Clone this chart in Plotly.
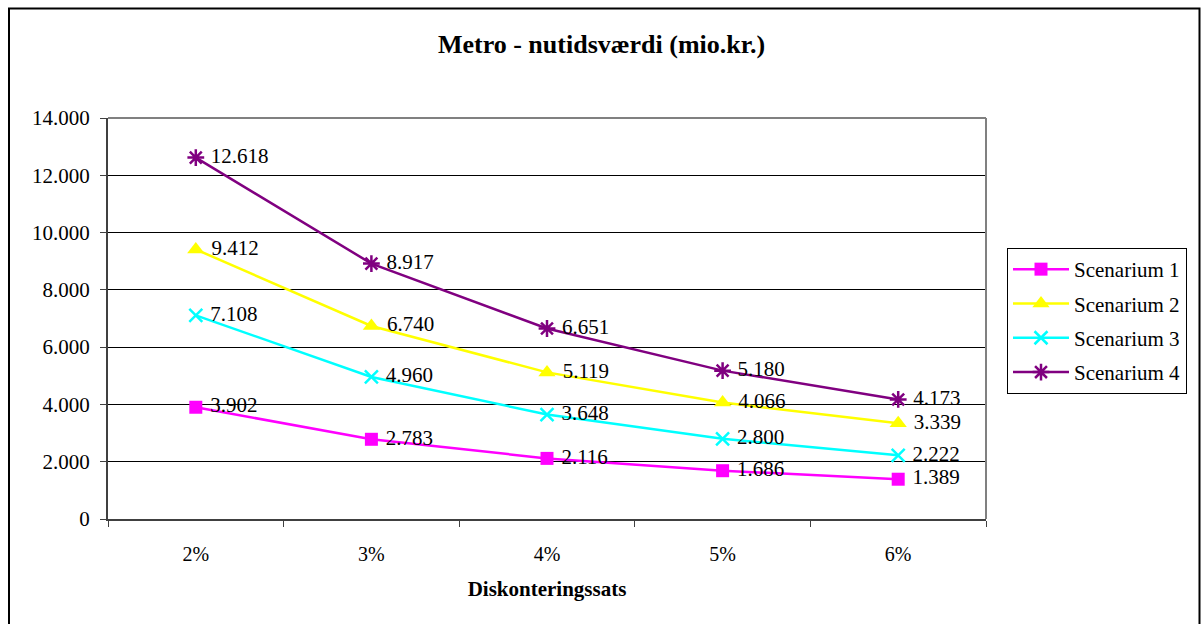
import plotly.graph_objects as go

# Discount rates (categories) and present values per scenario (mio. kr.)
rates = ["2%", "3%", "4%", "5%", "6%"]
scenarium_1 = [3902, 2783, 2116, 1686, 1389]
scenarium_2 = [9412, 6740, 5119, 4066, 3339]
scenarium_3 = [7108, 4960, 3648, 2800, 2222]
scenarium_4 = [12618, 8917, 6651, 5180, 4173]
series_names = ["Scenarium 1", "Scenarium 2", "Scenarium 3", "Scenarium 4"]
y_ticks = [0, 2000, 4000, 6000, 8000, 10000, 12000, 14000]

FONT = "Liberation Serif"

# Pixel frame of the plot area inside the 1203x624 canvas
W, H = 1203, 624
L, R, T, B = 108, 986, 118, 519


def px_x(p):
    return (p - L) / (R - L)


def px_y(p):
    return (B - p) / (B - T)


styles = [
    dict(color="#FF00FF", symbol="square", size=13, line=dict(width=0)),
    dict(color="#FFFF00", symbol="triangle-up", size=15, line=dict(width=0)),
    dict(color="#00FFFF", symbol="x-thin-open", size=13, line=dict(width=2.5, color="#00FFFF")),
    dict(color="#800080", symbol="asterisk-open", size=14, line=dict(width=2.5, color="#800080")),
]

fig = go.Figure()
for i, (name, vals) in enumerate(zip(series_names, [scenarium_1, scenarium_2, scenarium_3, scenarium_4])):
    st = styles[i]
    fig.add_trace(go.Scatter(
        x=rates, y=vals, name=name, legendgroup=name,
        mode="lines+markers+text",
        line=dict(color=st["color"], width=2.5),
        marker=st,
        texttemplate=" %{y:,d}",
        textposition="middle right",
        textfont=dict(family=FONT, size=21, color="black"),
        cliponaxis=False,
    ))

fig.update_layout(
    width=W, height=H,
    margin=dict(l=L, r=W - R, t=T, b=H - B, autoexpand=False),
    paper_bgcolor="white", plot_bgcolor="white",
    separators=",.",
    font=dict(family=FONT, size=20, color="black"),
    title=dict(text="<b>Metro - nutidsværdi (mio.kr.)</b>", x=0.5, xref="container",
               y=1 - 44 / H, yanchor="middle", yref="container",
               font=dict(family=FONT, size=26, color="black")),
    showlegend=True,
    legend=dict(x=px_x(1007), y=px_y(248), xanchor="left", yanchor="top",
                bordercolor="black", borderwidth=1, bgcolor="white",
                traceorder="grouped", tracegroupgap=4, itemwidth=56,
                font=dict(family=FONT, size=21, color="black")),
    xaxis=dict(type="category", range=[-0.5, 4.5], tickson="boundaries",
               ticks="outside", ticklen=6, tickcolor="#404040", tickwidth=1,
               showline=True, linecolor="#404040", linewidth=2,
               showgrid=False, ticklabelstandoff=16,
               tickfont=dict(family=FONT, size=20, color="black"),
               title=dict(text="<b>Diskonteringssats</b>", standoff=17,
                          font=dict(family=FONT, size=21, color="black"))),
    yaxis=dict(range=[0, 14000], tickvals=y_ticks, tickformat=",d",
               ticks="outside", ticklen=6, tickcolor="#404040", tickwidth=1,
               showline=True, linecolor="#404040", linewidth=2,
               showgrid=True, gridcolor="black", gridwidth=1,
               zeroline=False, ticklabelstandoff=6,
               tickfont=dict(family=FONT, size=21, color="black")),
)

# Gray frame on the top and right of the plot area
fig.add_shape(type="line", xref="paper", yref="paper", x0=0, x1=1, y0=1, y1=1,
              line=dict(color="#808080", width=2), layer="above")
fig.add_shape(type="line", xref="paper", yref="paper", x0=1, x1=1, y0=0, y1=1,
              line=dict(color="#808080", width=2), layer="above")
# Outer chart border
fig.add_shape(type="rect", xref="paper", yref="paper",
              x0=px_x(9), x1=px_x(1199.5), y0=px_y(640), y1=px_y(8.5),
              line=dict(color="black", width=2), layer="below")

fig.write_html("out.html")
